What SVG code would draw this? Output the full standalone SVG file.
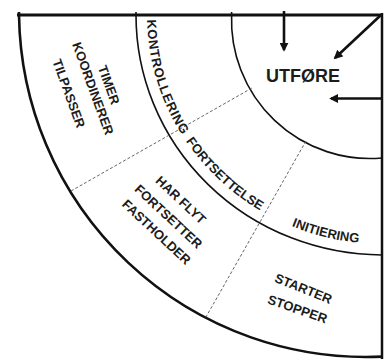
<svg xmlns="http://www.w3.org/2000/svg" xmlns:xlink="http://www.w3.org/1999/xlink" width="384" height="359" viewBox="0 0 384 359">
<style>
.t{font-family:"Liberation Sans",Arial,sans-serif;font-weight:bold;font-size:13px;fill:#1c1c1c}
.big{font-family:"Liberation Sans",Arial,sans-serif;font-weight:bold;font-size:18px;fill:#1c1c1c}
.ln{fill:none;stroke:#111;stroke-linecap:butt}
.dash{fill:none;stroke:#666;stroke-width:1;stroke-dasharray:3 2}
.arr{fill:none;stroke:#111;stroke-width:2.6;marker-end:url(#ah)}
</style>
<defs>
<marker id="ah" viewBox="0 0 10 10" refX="8" refY="5" markerWidth="9" markerHeight="9" markerUnits="userSpaceOnUse" orient="auto">
<path d="M0,0 L10,5 L0,10 z" fill="#111"/>
</marker>
<path id="kb" d="M147,15 A236 229 0 0 0 383,244"/>
</defs>
<rect width="384" height="359" fill="#fff"/>
<g id="frame">
<path class="ln" stroke-width="3" d="M17,15 L383,15"/>
<path class="ln" stroke-width="2.5" d="M382,13 L382,359"/>
<path class="ln" stroke-width="2.6" d="M19,12 L19,15 A347 347 0 0 0 382,356.6"/>
<path class="ln" stroke-width="1.6" d="M136,12 L136,15 A247 240 0 0 0 382,255"/>
<path class="ln" stroke-width="1.6" d="M231.6,12 L231.6,15 A138.5 138.5 0 0 0 382,158"/>
<path class="dash" d="M71,191 L252,88"/>
<path class="dash" d="M306,141 L206,317"/>
</g>
<g id="connectors">
<path class="arr" d="M284,11 L284,50"/>
<path class="arr" d="M381,15 L335,58"/>
<path class="arr" d="M382,98.5 L331,98.5"/>
</g>
<g id="node-utfore">
<text class="big" x="303" y="81.5" text-anchor="middle">UTFØRE</text>
</g>
<g id="node-kontrollering">
<text class="t" letter-spacing="0.7"><textPath xlink:href="#kb" href="#kb" startOffset="66" text-anchor="middle">KONTROLLERING</textPath></text>
</g>
<g id="node-fortsettelse">
<text class="t"><textPath xlink:href="#kb" href="#kb" startOffset="185" text-anchor="middle">FORTSETTELSE</textPath></text>
</g>
<g id="node-initiering">
<text class="t"><textPath xlink:href="#kb" href="#kb" startOffset="306" text-anchor="middle">INITIERING</textPath></text>
</g>
<g id="node-timer">
<text class="t" text-anchor="middle" transform="translate(109,85) rotate(70)" x="0" y="4.6">TIMER</text>
<text class="t" text-anchor="middle" transform="translate(93,88.5) rotate(70)" x="0" y="4.6">KOORDINERER</text>
<text class="t" text-anchor="middle" transform="translate(69,93.5) rotate(70)" x="0" y="4.6">TILPASSER</text>
</g>
<g id="node-harflyt">
<text class="t" text-anchor="middle" transform="translate(181,200) rotate(43)" x="0" y="4.6">HAR FLYT</text>
<text class="t" text-anchor="middle" transform="translate(168.5,216.5) rotate(43)" x="0" y="4.6">FORTSETTER</text>
<text class="t" text-anchor="middle" transform="translate(156.5,232) rotate(43)" x="0" y="4.6">FASTHOLDER</text>
</g>
<g id="node-starter">
<text class="t" text-anchor="middle" transform="translate(303.5,288.5) rotate(22)" x="0" y="4.6">STARTER</text>
<text class="t" text-anchor="middle" transform="translate(297.5,309) rotate(19)" x="0" y="4.6">STOPPER</text>
</g>
</svg>
